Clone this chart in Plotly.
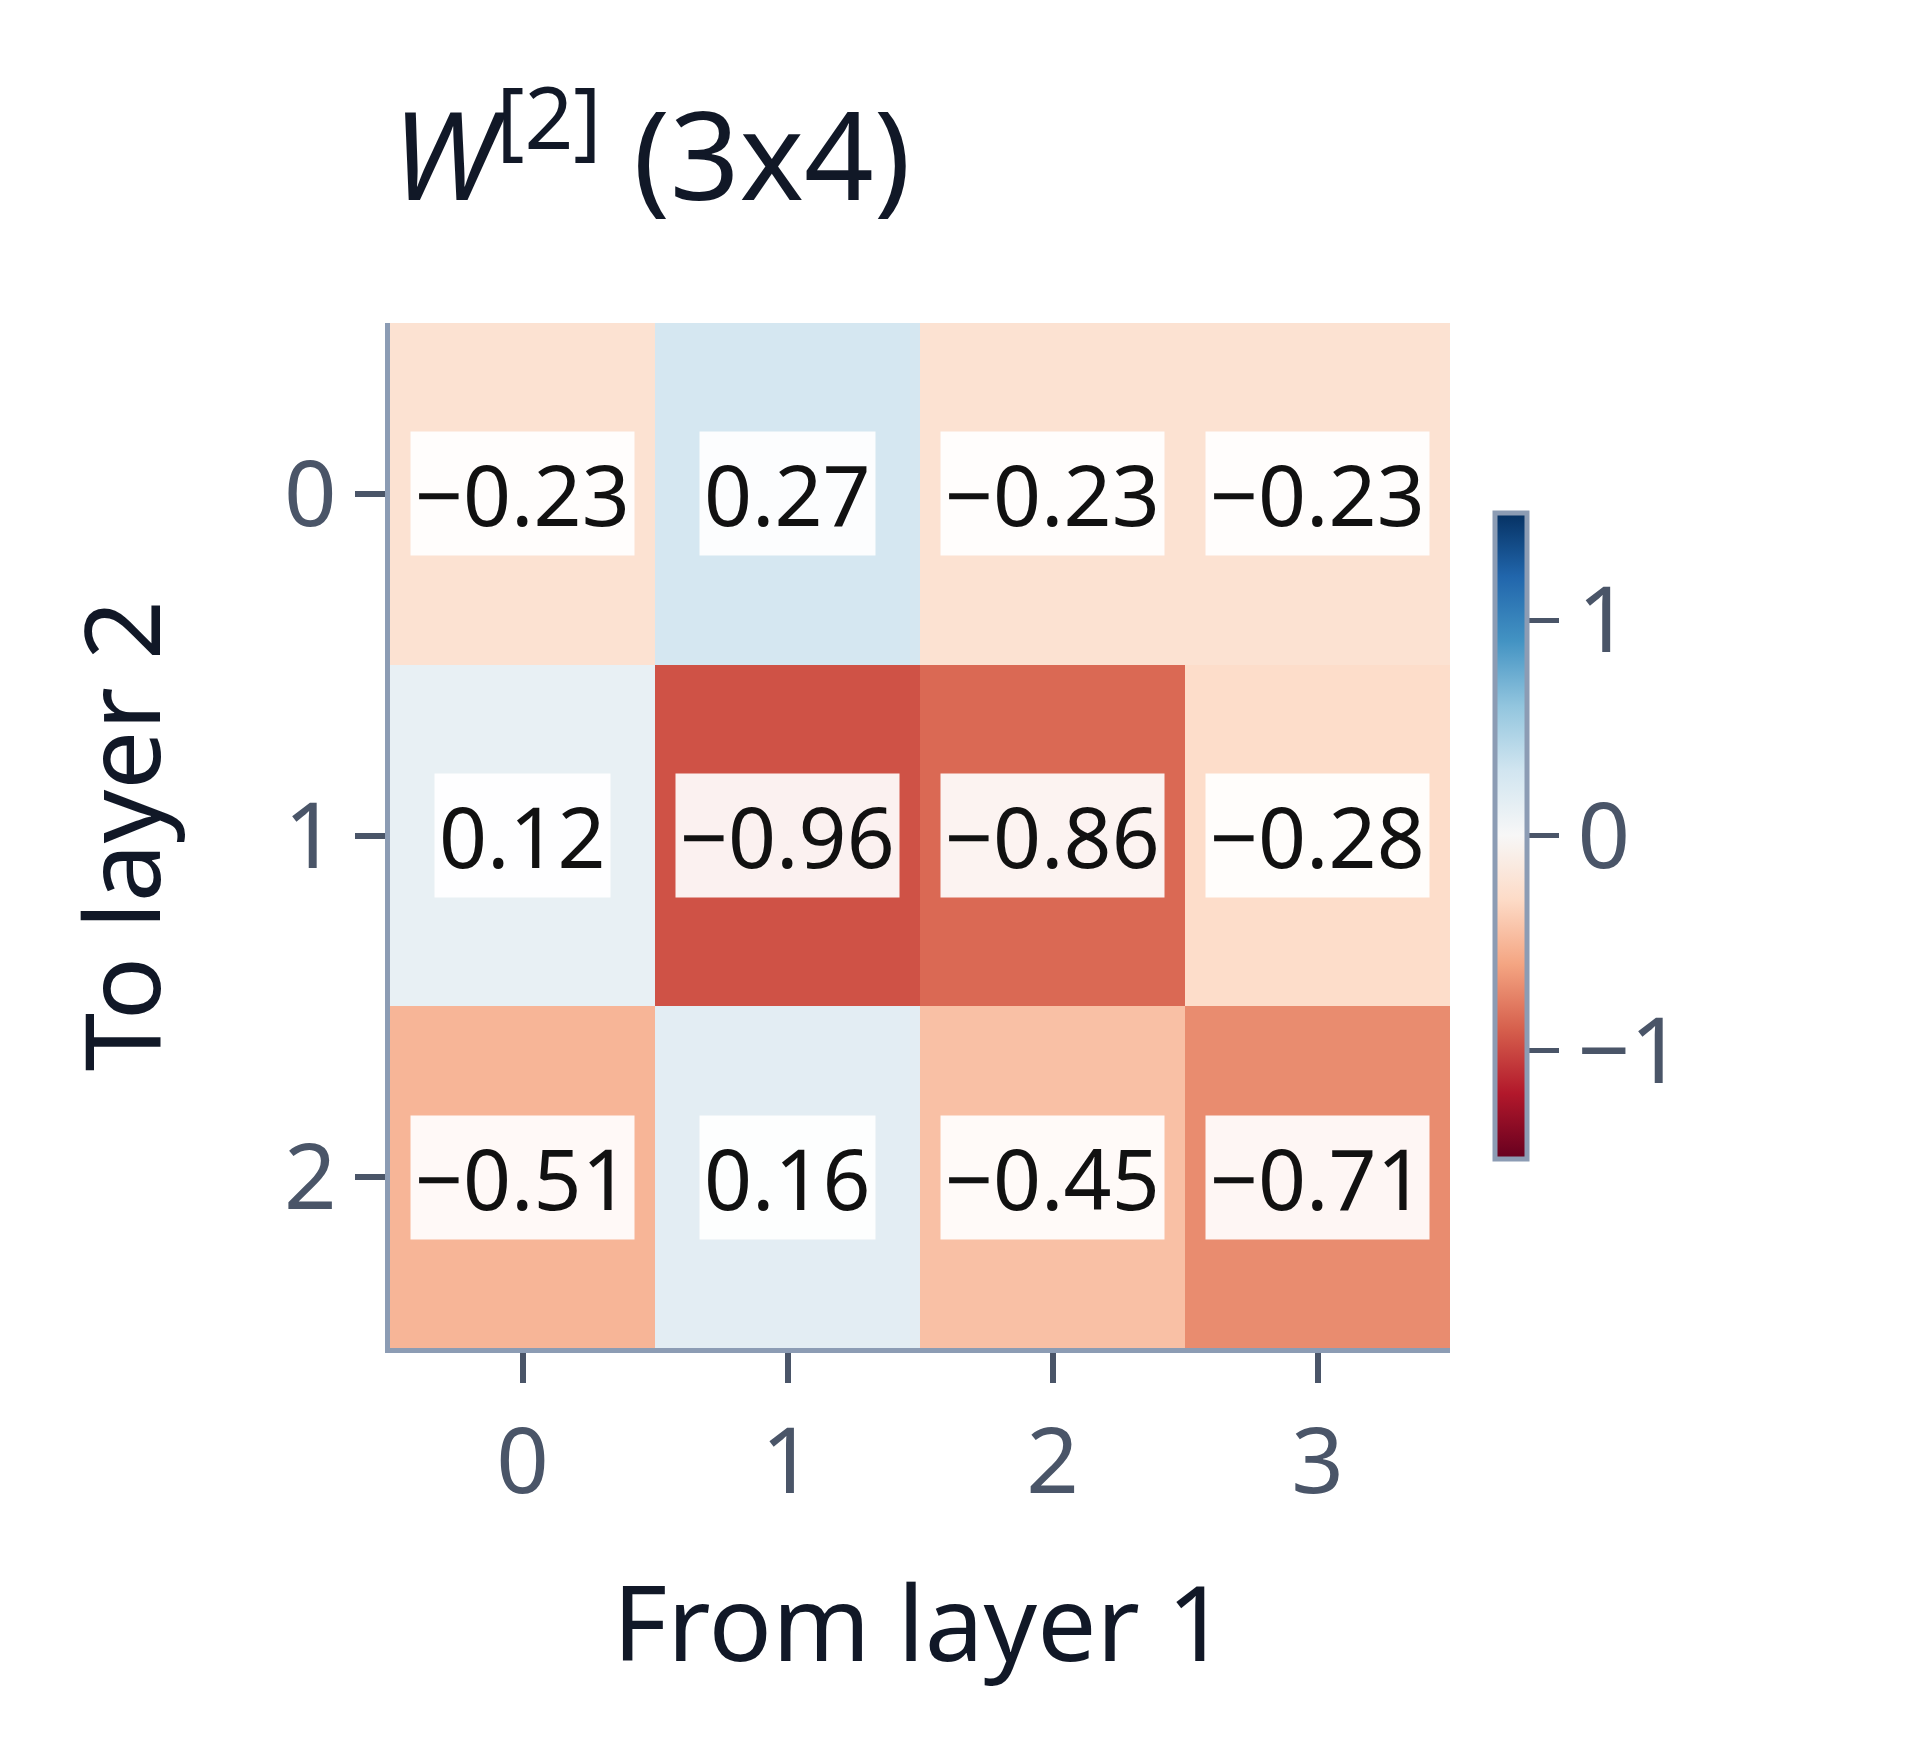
import plotly.graph_objects as go

x_labels = ["0", "1", "2", "3"]
y_labels = ["0", "1", "2"]
weights = [
    [-0.23, 0.27, -0.23, -0.23],
    [0.12, -0.96, -0.86, -0.28],
    [-0.51, 0.16, -0.45, -0.71],
]

axis_col = "#8c9cb4"
tick_col = "#4a5568"
font = "Noto Sans"

fig = go.Figure(go.Heatmap(
    z=weights, x=[0, 1, 2, 3], y=[0, 1, 2],
    colorscale="RdBu", zmin=-1.5, zmax=1.5,
    colorbar=dict(
        x=1.0, xanchor="left", xpad=45, y=0.5, yanchor="middle",
        len=0.65, thickness=32, outlinewidth=5, outlinecolor=axis_col,
        tickvals=[-1, 0, 1], ticktext=["\u22121", "0", "1"],
        ticks="outside", ticklen=30, tickwidth=5, tickcolor=tick_col,
        tickfont=dict(size=92, color=tick_col, family=font),
    ),
    hoverinfo="skip",
))

for i, row in enumerate(weights):
    for j, v in enumerate(row):
        fig.add_annotation(
            x=j, y=i, text=f"{v:.2f}".replace("-", "\u2212"), showarrow=False,
            font=dict(size=84, color="#111", family=font),
            bgcolor="rgba(255,255,255,0.92)", borderpad=4,
        )

fig.update_layout(
    width=1920, height=1760,
    paper_bgcolor="white", plot_bgcolor="white",
    font=dict(family=font),
    title=dict(text="<i>W</i><sup>[2]</sup> (3x4)", x=0.2, xanchor="left",
               y=0.915, yanchor="middle", font=dict(size=122, color="#111827")),
    margin=dict(l=382, r=478, t=315, b=420, autoexpand=False),
    xaxis=dict(
        tickvals=[0, 1, 2, 3], ticktext=x_labels, range=[-0.5, 3.5], automargin=False,
        showline=True, linecolor=axis_col, linewidth=5, showgrid=False, zeroline=False,
        ticks="outside", ticklen=30, tickwidth=6, tickcolor=tick_col,
        tickfont=dict(size=92, color=tick_col),
        title=dict(text="From layer 1", font=dict(size=105, color="#111827"), standoff=70),
    ),
    yaxis=dict(
        tickvals=[0, 1, 2], ticktext=y_labels, range=[2.5, -0.5], automargin=False,
        showline=True, linecolor=axis_col, linewidth=5, showgrid=False, zeroline=False,
        ticks="outside", ticklen=30, tickwidth=6, tickcolor=tick_col,
        tickfont=dict(size=92, color=tick_col),
        title=dict(text="To layer 2", font=dict(size=105, color="#111827"), standoff=90),
    ),
)

fig.write_html("out.html")
